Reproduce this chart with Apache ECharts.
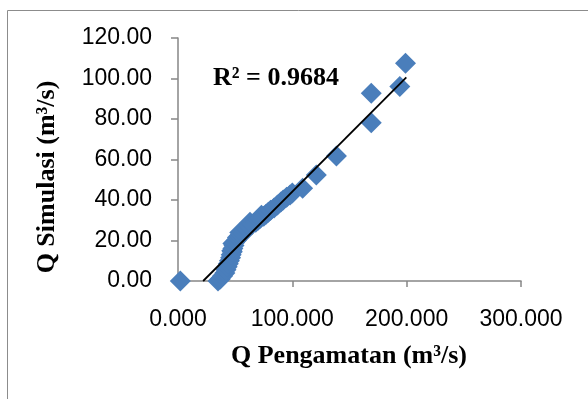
<!DOCTYPE html>
<html><head><meta charset="utf-8">
<script src="https://cdn.jsdelivr.net/npm/echarts@6/dist/echarts.min.js"></script>
<style>html,body{margin:0;padding:0;background:#fff}#c{width:588px;height:399px}</style>
</head><body><div id="c"></div>
<script>
// Observed discharge (x) and simulated discharge (y), m3/s
const qObs = [2, 35, 37, 39, 41, 42, 43, 44, 45, 46, 46.5, 47, 47.5, 48, 48, 49, 49.5, 51, 52, 54, 54, 56, 57, 58, 60, 62, 63, 65, 68, 70, 72, 73, 75, 77, 79, 81, 84, 87, 90, 92, 95, 98, 100, 109, 121, 138.6, 169, 169, 194, 199];
const qSim = [0, 0, 1, 2.5, 4, 5.5, 7, 8.5, 10, 11.5, 13, 15, 14.5, 18.5, 16, 17.5, 19, 20, 21.5, 22.5, 24, 24, 23.5, 25, 26, 27, 29, 28, 29, 30, 31, 32.5, 32, 33, 34, 35, 36, 37.5, 39, 40, 41.3, 42.5, 43.5, 45.8, 52.3, 61.7, 92.7, 78.2, 96, 107.5];
// Linear trendline endpoints
const trendX = [22, 199.7];
const trendY = [0, 100.6];
const xTicks = [0, 100, 200, 300];
const yTicks = [0, 20, 40, 60, 80, 100, 120];
const r2Text = 'R² = 0.9684';

const chart = echarts.init(document.getElementById('c'));
const axisGrey = '#868686';
chart.setOption({
  animation: false,
  grid: {left: 178, right: 67, top: 38, bottom: 118},
  xAxis: {
    type: 'value', min: xTicks[0], max: xTicks[xTicks.length - 1], interval: 100,
    axisLine: {lineStyle: {color: axisGrey, width: 1.5}},
    axisTick: {show: true, length: 6, lineStyle: {color: axisGrey, width: 1.5}},
    splitLine: {show: false},
    axisLabel: {formatter: v => v.toFixed(3), fontFamily: 'Liberation Sans', fontSize: 23, color: '#000', margin: 27}
  },
  yAxis: {
    type: 'value', min: yTicks[0], max: yTicks[yTicks.length - 1], interval: 20,
    axisLine: {show: true, lineStyle: {color: axisGrey, width: 1.5}},
    axisTick: {show: true, length: 7, lineStyle: {color: axisGrey, width: 1.5}},
    splitLine: {show: false},
    axisLabel: {formatter: v => v.toFixed(2), fontFamily: 'Liberation Sans', fontSize: 23, color: '#000', margin: 26}
  },
  series: [
    {
      type: 'scatter', symbol: 'diamond', symbolSize: 21, clip: false,
      itemStyle: {color: '#4A7EBB', opacity: 1},
      data: qObs.map((x, i) => [x, qSim[i]]), z: 2
    },
    {
      type: 'line', symbol: 'none', lineStyle: {color: '#000', width: 1.8},
      data: trendX.map((x, i) => [x, trendY[i]]), z: 3
    }
  ],
  graphic: [
    {type: 'rect', shape: {x: 7.5, y: 10.5, width: 700, height: 500}, style: {fill: 'none', stroke: '#8c8c8c', lineWidth: 1}},
    {type: 'text', x: 213, y: 78, style: {text: r2Text, font: 'bold 26px "Liberation Serif"', fill: '#000', textVerticalAlign: 'middle'}},
    {type: 'text', x: 349, y: 356, style: {text: 'Q Pengamatan (m³/s)', font: 'bold 26px "Liberation Serif"', fill: '#000', textAlign: 'center', textVerticalAlign: 'middle'}},
    {type: 'text', x: 47, y: 177, rotation: Math.PI / 2, style: {text: 'Q Simulasi (m³/s)', font: 'bold 26px "Liberation Serif"', fill: '#000', textAlign: 'center', textVerticalAlign: 'middle'}}
  ]
});
</script></body></html>
